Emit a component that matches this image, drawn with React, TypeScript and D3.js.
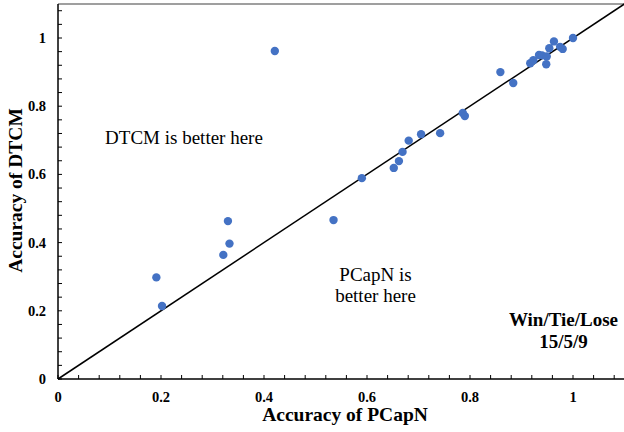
import React from "react";
import * as d3 from "d3";

const pcapn = [0.191, 0.202, 0.321, 0.330, 0.333, 0.421, 0.535, 0.590, 0.652, 0.662, 0.669, 0.681, 0.705, 0.742, 0.786, 0.790, 0.859, 0.884, 0.917, 0.923, 0.934, 0.940, 0.949, 0.948, 0.954, 0.963, 0.975, 0.980, 1.0];
const dtcm = [0.298, 0.214, 0.364, 0.463, 0.397, 0.962, 0.466, 0.589, 0.619, 0.639, 0.666, 0.699, 0.718, 0.721, 0.780, 0.771, 0.900, 0.868, 0.926, 0.935, 0.950, 0.949, 0.946, 0.923, 0.970, 0.990, 0.974, 0.968, 1.0];
const majorTicks = [0, 0.2, 0.4, 0.6, 0.8, 1];
const tickLabels = ["0", "0.2", "0.4", "0.6", "0.8", "1"];
const minorTicks = d3.range(0, 28).map((i) => i * 0.04);
const xTitle = "Accuracy of PCapN";
const yTitle = "Accuracy of DTCM";
const upperNote = "DTCM is better here";
const lowerNote = ["PCapN is", "better here"];
const summary = ["Win/Tie/Lose", "15/5/9"];

const W = 624;
const H = 432;
const SERIF = "'Liberation Serif', 'Times New Roman', serif";

export default function App() {
  const x = d3.scaleLinear().domain([0, 1.1]).range([58, 624.5]);
  const y = d3.scaleLinear().domain([0, 1.1]).range([379, 3.9]);
  const line = d3.line<number>().x((d) => x(d)).y((d) => y(d));
  const pts = pcapn.map((v, i) => ({ x: v, y: dtcm[i] }));
  return (
    <svg width={W} height={H} style={{ position: "absolute", left: 0, top: 0, background: "#fff" }} fontFamily={SERIF}>
      <rect x={0} y={0} width={W} height={H} fill="#fff" />
      {/* top border */}
      <line x1={x(0)} x2={W} y1={y(1.1)} y2={y(1.1)} stroke="#7f7f7f" strokeWidth={1.5} />
      {/* diagonal */}
      <path d={line([0, 1.1]) || ""} stroke="#000" strokeWidth={1.5} fill="none" />
      {/* axes */}
      <line x1={x(0)} x2={W} y1={y(0)} y2={y(0)} stroke="#000" strokeWidth={1.5} />
      <line x1={x(0)} x2={x(0)} y1={y(0)} y2={y(1.1)} stroke="#000" strokeWidth={1.5} />
      {minorTicks.filter((t) => t <= 1.1).map((t, i) => (
        <g key={"mt" + i}>
          <line x1={x(t)} x2={x(t)} y1={y(0)} y2={y(0) - 4} stroke="#000" strokeWidth={1} />
          <line x1={x(0)} x2={x(0) + 4} y1={y(t)} y2={y(t)} stroke="#000" strokeWidth={1} />
        </g>
      ))}
      {majorTicks.map((t, i) => (
        <g key={"lt" + i} fontWeight="bold" fontSize={14.5}>
          <text x={x(t)} y={402} textAnchor="middle">{tickLabels[i]}</text>
          <text x={46} y={y(t) + 5} textAnchor="end">{tickLabels[i]}</text>
        </g>
      ))}
      {pts.map((p, i) => (
        <circle key={"p" + i} cx={x(p.x)} cy={y(p.y)} r={4.2} fill="#4472C4" />
      ))}
      <text x={184} y={144} fontSize={19} textAnchor="middle">{upperNote}</text>
      {lowerNote.map((s, i) => (
        <text key={"ln" + i} x={375.5} y={281 + i * 20.5} fontSize={19} textAnchor="middle">{s}</text>
      ))}
      {summary.map((s, i) => (
        <text key={"sm" + i} x={563.5} y={326 + i * 22} fontSize={19} fontWeight="bold" textAnchor="middle">{s}</text>
      ))}
      <text x={345} y={421} fontSize={19.5} fontWeight="bold" textAnchor="middle">{xTitle}</text>
      <text transform={`translate(22,190.5) rotate(-90)`} fontSize={19.5} fontWeight="bold" textAnchor="middle">{yTitle}</text>
    </svg>
  );
}
